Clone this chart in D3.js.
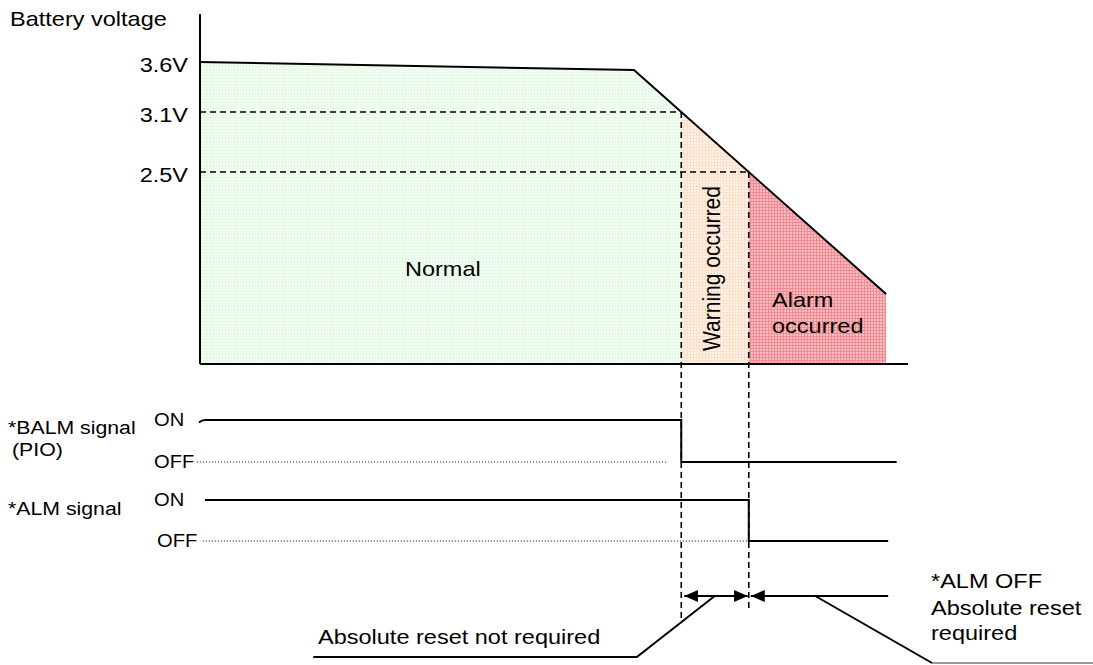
<!DOCTYPE html>
<html>
<head>
<meta charset="utf-8">
<script src="https://cdn.jsdelivr.net/npm/d3@7"></script>
<style>
  body { margin: 0; background: #fff; }
  svg { display: block; font-family: "Liberation Sans", Arial, sans-serif; }
</style>
</head>
<body>
<svg id="chart" width="1093" height="665"></svg>
<script>
// ---- data ----
const axisTitle = "Battery voltage";
const voltTicks = [3.6, 3.1, 2.5];
const voltTickLabels = ["3.6V", "3.1V", "2.5V"];

// battery voltage over time (time in % of the axis length)
const curveTime = [0, 61.3, 96.9];
const curveVolt = [3.6, 3.52, 1.28];

const zoneNames = ["Normal", "Warning occurred", "Alarm occurred"];

const signalNames = ["*BALM signal", "*ALM signal"];
const signalSub = ["(PIO)", ""];
const signalStart = [0.7, 0.7];
const signalEnd = [98.4, 97.2];
const offDotStart = [-0.4, 0.4];
const offDotEnd = [66.1, null];   // null -> runs to the drop

const resetLabels = ["Absolute reset not required", "*ALM OFF", "Absolute reset", "required"];

// ---- layout ----
const svg = d3.select("#chart");
const SX = 1.12; // glyphs in the source are a bit wide

const x = d3.scaleLinear().domain([0, 100]).range([200, 908]);
const y = d3.scaleLinear().domain([0.58, 3.6]).range([364, 62]);

// time where the curve crosses a voltage
function crossTime(v) {
  for (let i = 0; i < curveTime.length - 1; i++) {
    let v0 = curveVolt[i], v1 = curveVolt[i + 1];
    if ((v0 - v) * (v1 - v) <= 0 && v0 != v1) {
      return curveTime[i] + (v0 - v) / (v0 - v1) * (curveTime[i + 1] - curveTime[i]);
    }
  }
  return null;
}
function voltAt(t) {
  for (let i = 0; i < curveTime.length - 1; i++) {
    if (t >= curveTime[i] && t <= curveTime[i + 1]) {
      let f = (t - curveTime[i]) / (curveTime[i + 1] - curveTime[i]);
      return curveVolt[i] + f * (curveVolt[i + 1] - curveVolt[i]);
    }
  }
  return curveVolt[curveVolt.length - 1];
}

const tWarn = crossTime(3.1);
const tAlarm = crossTime(2.5);
const tEnd = curveTime[curveTime.length - 1];

function label(g, str, px, py, size, anchor) {
  return g.append("text")
    .attr("transform", "translate(" + px + "," + py + ") scale(" + SX + ",1)")
    .attr("text-anchor", anchor || "start")
    .attr("font-size", size)
    .attr("fill", "#000")
    .text(str);
}

// grid textured fills
const defs = svg.append("defs");
function gridPattern(id, base, line) {
  let p = defs.append("pattern").attr("id", id)
    .attr("patternUnits", "userSpaceOnUse").attr("width", 3).attr("height", 3);
  p.append("rect").attr("width", 3).attr("height", 3).attr("fill", base);
  p.append("rect").attr("width", 3).attr("height", 1).attr("fill", line);
  p.append("rect").attr("width", 1).attr("height", 3).attr("fill", line);
}
gridPattern("pGreen", "#f4fef4", "#e6f9e6");
gridPattern("pOrange", "#fff1e6", "#fbe0cc");
gridPattern("pRed", "#f8bcc0", "#ef8c94");

const area = d3.area()
  .x(d => x(d.t))
  .y0(y(0.58))
  .y1(d => y(d.v));

function zonePoints(t0, t1) {
  let pts = [{t: t0, v: voltAt(t0)}];
  curveTime.forEach((t, i) => { if (t > t0 && t < t1) pts.push({t: t, v: curveVolt[i]}); });
  pts.push({t: t1, v: voltAt(t1)});
  return pts;
}

svg.append("path").attr("d", area(zonePoints(0, tWarn))).attr("fill", "url(#pGreen)");
svg.append("path").attr("d", area(zonePoints(tWarn, tAlarm))).attr("fill", "url(#pOrange)");
svg.append("path").attr("d", area(zonePoints(tAlarm, tEnd))).attr("fill", "url(#pRed)");

// threshold dashed lines
const dash = "6,4";
[[3.1, tWarn, 620], [2.5, tAlarm, 612]].forEach(([v, t, bottom]) => {
  svg.append("line")
    .attr("x1", x(0)).attr("x2", x(t)).attr("y1", y(v)).attr("y2", y(v))
    .attr("stroke", "#000").attr("stroke-width", 1.6).attr("stroke-dasharray", dash);
  svg.append("line")
    .attr("x1", x(t)).attr("x2", x(t)).attr("y1", y(v)).attr("y2", bottom)
    .attr("stroke", "#000").attr("stroke-width", 1.6).attr("stroke-dasharray", dash);
});

// voltage curve
const line = d3.line().x(d => x(d[0])).y(d => y(d[1]));
svg.append("path")
  .attr("d", line(curveTime.map((t, i) => [t, curveVolt[i]])))
  .attr("fill", "none").attr("stroke", "#000").attr("stroke-width", 2);

// axes
svg.append("line").attr("x1", x(0)).attr("x2", x(0)).attr("y1", y(4.08)).attr("y2", y(0.58))
  .attr("stroke", "#000").attr("stroke-width", 2);
svg.append("line").attr("x1", x(0)).attr("x2", x(100)).attr("y1", y(0.58)).attr("y2", y(0.58))
  .attr("stroke", "#000").attr("stroke-width", 2);

label(svg, axisTitle, 10, 26, 21);
voltTicks.forEach((v, i) => label(svg, voltTickLabels[i], 188, y(v) + 9.5, 21, "end"));

// zone texts
label(svg, zoneNames[0], 405, 276, 21);
svg.append("text")
  .attr("transform", "translate(720," + 268.5 + ") scale(" + SX + ",1) rotate(-90)")
  .attr("text-anchor", "middle").attr("font-size", 21).attr("fill", "#000")
  .text(zoneNames[1]);
label(svg, "Alarm", 772, 307, 21);
label(svg, "occurred", 772, 333, 21);

// ---- signals ----
const signalRows = [{on: 420, off: 462}, {on: 500, off: 541}];
const signalDrop = [tWarn, tAlarm];
const signalLabelY = [434, 515];

signalRows.forEach((row, i) => {
  label(svg, signalNames[i], 8, signalLabelY[i], 19);
  if (signalSub[i]) label(svg, signalSub[i], 12, 456, 19);
  label(svg, "ON", 154, row.on + 6, 18);
  label(svg, "OFF", i == 0 ? 154 : 157, row.off + 6, 18);

  let dotEnd = offDotEnd[i] == null ? signalDrop[i] : offDotEnd[i];
  svg.append("line")
    .attr("x1", x(offDotStart[i])).attr("x2", x(dotEnd)).attr("y1", row.off).attr("y2", row.off)
    .attr("stroke", "#000").attr("stroke-width", 1).attr("stroke-dasharray", "1,2");

  let pts = [[signalStart[i], row.on], [signalDrop[i], row.on], [signalDrop[i], row.off], [signalEnd[i], row.off]];
  svg.append("path")
    .attr("d", d3.line().x(d => x(d[0])).y(d => d[1])(pts))
    .attr("fill", "none").attr("stroke", "#000").attr("stroke-width", 2);
});
// small hook at the start of the BALM ON line
svg.append("path")
  .attr("d", "M" + (x(signalStart[0]) - 6) + "," + (signalRows[0].on + 2.5) + " Q" + (x(signalStart[0]) - 3) + "," + signalRows[0].on + " " + x(signalStart[0]) + "," + signalRows[0].on)
  .attr("fill", "none").attr("stroke", "#000").attr("stroke-width", 2);

// ---- reset annotations ----
const resetY = 596;
defs.append("marker").attr("id", "arrow")
  .attr("viewBox", "0 0 14 12").attr("refX", 14).attr("refY", 6)
  .attr("markerWidth", 14).attr("markerHeight", 12).attr("markerUnits", "userSpaceOnUse")
  .attr("orient", "auto-start-reverse")
  .append("path").attr("d", "M0,0 L14,6 L0,12 Z").attr("fill", "#000");

svg.append("line")
  .attr("x1", x(tWarn) + 3).attr("x2", x(tAlarm) - 1).attr("y1", resetY).attr("y2", resetY)
  .attr("stroke", "#000").attr("stroke-width", 2)
  .attr("marker-start", "url(#arrow)").attr("marker-end", "url(#arrow)");
svg.append("line")
  .attr("x1", x(tAlarm) + 2).attr("x2", x(97.2)).attr("y1", resetY).attr("y2", resetY)
  .attr("stroke", "#000").attr("stroke-width", 2)
  .attr("marker-start", "url(#arrow)");

// leader lines
svg.append("path")
  .attr("d", d3.line()([[x(72.7), resetY], [x(61.7), 657], [x(16.0), 657]]))
  .attr("fill", "none").attr("stroke", "#000").attr("stroke-width", 2);
svg.append("path")
  .attr("d", d3.line()([[x(86.9), resetY], [x(103.4), 663]]))
  .attr("fill", "none").attr("stroke", "#000").attr("stroke-width", 2);
svg.append("line")
  .attr("x1", x(103.4)).attr("x2", 1093).attr("y1", 663).attr("y2", 663)
  .attr("stroke", "#777").attr("stroke-width", 1.5);

label(svg, resetLabels[0], 318, 644, 21);
label(svg, resetLabels[1], 931, 588, 21);
label(svg, resetLabels[2], 931, 615, 21);
label(svg, resetLabels[3], 931, 640, 21);
</script>
</body>
</html>
